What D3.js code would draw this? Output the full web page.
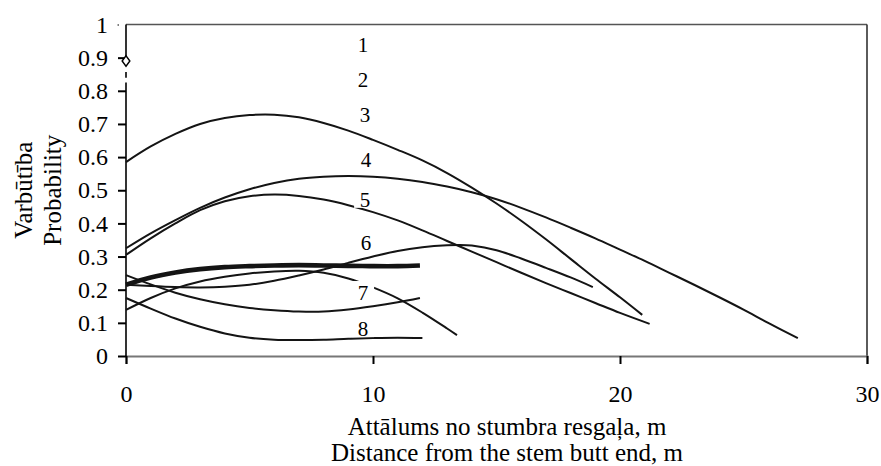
<!DOCTYPE html>
<html><head><meta charset="utf-8">
<script src="https://cdn.jsdelivr.net/npm/d3@7"></script>
<style>
body{margin:0;background:#fff}
svg{display:block}
text{font-family:"Liberation Serif","Times New Roman",serif;fill:#000}
</style>
</head><body>
<svg id="chart" width="881" height="466"></svg>
<script>
// ---- data ----
const xTickValues = [0, 10, 20, 30];
const yTickValues = [0, 0.1, 0.2, 0.3, 0.4, 0.5, 0.6, 0.7, 0.8, 0.9, 1];
const yTickLabels = ["0", "0.1", "0.2", "0.3", "0.4", "0.5", "0.6", "0.7", "0.8", "0.9", "1"];
const xTitle1 = "Attālums no stumbra resgaļa, m";
const xTitle2 = "Distance from the stem butt end, m";
const yTitle1 = "Varbūtība";
const yTitle2 = "Probability";

// thick curve
const s1X = [0, 1, 2, 3, 4, 5, 6, 7, 8, 9, 10, 11, 11.9];
const s1Y = [0.215, 0.237, 0.252, 0.262, 0.268, 0.271, 0.273, 0.274, 0.273, 0.272, 0.271, 0.271, 0.273];
// rise and fall curve
const s2X = [0, 1, 2, 3, 4, 5, 6, 7, 8, 9, 10, 11, 12, 13, 13.4];
const s2Y = [0.139, 0.175, 0.204, 0.225, 0.239, 0.249, 0.255, 0.257, 0.251, 0.234, 0.207, 0.174, 0.131, 0.083, 0.063];
const s3X = [0, 1, 2, 3, 4, 5, 6, 7, 8, 9, 10, 11, 12, 13, 14, 15, 16, 17, 18, 19, 20, 20.9];
const s3Y = [0.585, 0.632, 0.670, 0.700, 0.718, 0.727, 0.728, 0.72, 0.703, 0.68, 0.652, 0.622, 0.59, 0.552, 0.508, 0.46, 0.408, 0.352, 0.293, 0.234, 0.177, 0.124];
const s4X = [0, 1, 2, 3, 4, 5, 6, 7, 8, 9, 10, 11, 12, 13, 14, 15, 16, 17, 18, 19, 20, 21, 22, 23, 24, 25, 26, 27.2];
const s4Y = [0.325, 0.37, 0.41, 0.447, 0.478, 0.503, 0.522, 0.535, 0.541, 0.543, 0.541, 0.535, 0.525, 0.511, 0.494, 0.473, 0.447, 0.418, 0.387, 0.355, 0.321, 0.287, 0.251, 0.215, 0.178, 0.14, 0.10, 0.054];
const s5X = [0, 1, 2, 3, 4, 5, 6, 7, 8, 9, 10, 11, 12, 13, 14, 15, 16, 17, 18, 19, 20, 21.2];
const s5Y = [0.305, 0.355, 0.40, 0.440, 0.467, 0.482, 0.487, 0.483, 0.472, 0.455, 0.434, 0.409, 0.379, 0.347, 0.315, 0.283, 0.251, 0.22, 0.19, 0.16, 0.13, 0.097];
const s6X = [0, 1, 2, 3, 4, 5, 6, 7, 8, 9, 10, 11, 12, 13, 13.5, 14, 15, 16, 17, 18, 18.9];
const s6Y = [0.215, 0.211, 0.208, 0.207, 0.209, 0.215, 0.227, 0.243, 0.261, 0.281, 0.30, 0.317, 0.328, 0.334, 0.335, 0.333, 0.319, 0.294, 0.266, 0.237, 0.208];
const s7X = [0, 1, 2, 3, 4, 5, 6, 7, 8, 9, 10, 11, 11.9];
const s7Y = [0.244, 0.216, 0.191, 0.171, 0.156, 0.145, 0.138, 0.134, 0.134, 0.14, 0.15, 0.162, 0.175];
const s8X = [0, 1, 2, 3, 4, 5, 6, 7, 8, 9, 10, 11, 12];
const s8Y = [0.175, 0.143, 0.113, 0.088, 0.068, 0.055, 0.049, 0.048, 0.049, 0.052, 0.054, 0.055, 0.054];

// single marker on the axis
const markerX = [0];
const markerY = [0.89];

// curve number labels
const labelNames = ["1", "2", "3", "4", "5", "6", "7", "8"];
const labelX = [9.6, 9.6, 9.68, 9.72, 9.68, 9.72, 9.6, 9.6];
const labelY = [0.938, 0.833, 0.727, 0.591, 0.471, 0.341, 0.19, 0.081];

// y axis line pieces (axis drawn broken around the marker)
const yAxisPieces = [[1, 0.905], [0.857, 0.839], [0.825, 0]];

// ---- drawing ----
const svg = d3.select("#chart");
const m = {left: 126, top: 24.5, right: 867, bottom: 356};
const x = d3.scaleLinear().domain([0, 30]).range([m.left, m.right]);
const y = d3.scaleLinear().domain([0, 1]).range([m.bottom, m.top]);

// frame: top & right
svg.append("line").attr("x1", x(0)).attr("x2", x(30)).attr("y1", y(1)).attr("y2", y(1))
  .attr("stroke", "#555").attr("stroke-width", 1.6);
svg.append("line").attr("x1", x(30)).attr("x2", x(30)).attr("y1", y(1)).attr("y2", y(0))
  .attr("stroke", "#333").attr("stroke-width", 1.6);

// x axis
const xAxis = d3.axisBottom(x).tickValues(xTickValues).tickSize(8).tickPadding(21).tickFormat(d3.format("d"));
const gx = svg.append("g").attr("transform", `translate(0,${y(0)})`).call(xAxis);
gx.select(".domain").attr("stroke", "#777").attr("stroke-width", 2);
gx.selectAll(".tick line").attr("stroke", "#000").attr("stroke-width", 2);
gx.selectAll(".tick text").attr("font-size", 24).attr("font-family", "Liberation Serif");

// y axis
const yAxis = d3.axisLeft(y).tickValues(yTickValues).tickSize(8).tickPadding(10)
  .tickFormat((d, i) => yTickLabels[i]);
const gy = svg.append("g").attr("transform", `translate(${x(0)},0)`).call(yAxis);
gy.select(".domain").remove();
gy.selectAll(".tick line").attr("stroke", "#000")
  .attr("x1", (d) => d === 1 ? -7 : 0).attr("x2", (d) => d === 1 ? -8.5 : -8)
  .attr("stroke-width", (d) => d === 1 ? 1.2 : 2);
gy.selectAll(".tick text").attr("font-size", 24).attr("font-family", "Liberation Serif");
svg.append("g").selectAll("line").data(yAxisPieces).join("line")
  .attr("x1", x(0)).attr("x2", x(0))
  .attr("y1", (d) => y(d[0])).attr("y2", (d) => y(d[1]))
  .attr("stroke", "#000").attr("stroke-width", 1.6);

// curves
const series = [
  {xs: s1X, ys: s1Y, w: 4.6},
  {xs: s2X, ys: s2Y, w: 2},
  {xs: s3X, ys: s3Y, w: 2},
  {xs: s4X, ys: s4Y, w: 2},
  {xs: s5X, ys: s5Y, w: 2},
  {xs: s6X, ys: s6Y, w: 2},
  {xs: s7X, ys: s7Y, w: 2},
  {xs: s8X, ys: s8Y, w: 2}
];
const line = d3.line().x((d) => x(d[0])).y((d) => y(d[1])).curve(d3.curveCatmullRom.alpha(0.5));
svg.append("g").selectAll("path").data(series).join("path")
  .attr("d", (s) => line(s.xs.map((v, i) => [v, s.ys[i]])))
  .attr("fill", "none").attr("stroke", "#141414").attr("stroke-width", (s) => s.w)
  .attr("stroke-linejoin", "round").attr("stroke-linecap", "butt");

// marker
const diamond = d3.symbol().type(d3.symbolDiamond).size(32);
svg.append("g").selectAll("path").data(markerX.map((v, i) => [v, markerY[i]])).join("path")
  .attr("transform", (d) => `translate(${x(d[0])},${y(d[1])}) scale(1.25,1)`)
  .attr("d", diamond).attr("fill", "#fff").attr("stroke", "#000").attr("stroke-width", 1.3);

// labels with white background
const lg = svg.append("g").selectAll("g").data(labelNames).join("g")
  .attr("transform", (d, i) => `translate(${x(labelX[i])},${y(labelY[i])})`);
lg.append("rect").attr("x", -11).attr("y", -12).attr("width", 22).attr("height", 20).attr("fill", "#fff");
lg.append("text").attr("text-anchor", "middle").attr("y", 7).attr("font-size", 21).text((d) => d);

// titles
svg.append("text").attr("x", 507).attr("y", 435).attr("text-anchor", "middle").attr("font-size", 25).text(xTitle1);
svg.append("text").attr("x", 507).attr("y", 461).attr("text-anchor", "middle").attr("font-size", 25).text(xTitle2);
const cy = (m.top + m.bottom) / 2;
svg.append("text").attr("transform", `translate(32,${cy}) rotate(-90)`).attr("text-anchor", "middle").attr("font-size", 25).text(yTitle1);
svg.append("text").attr("transform", `translate(61,${cy}) rotate(-90)`).attr("text-anchor", "middle").attr("font-size", 25).text(yTitle2);
</script>
</body></html>
